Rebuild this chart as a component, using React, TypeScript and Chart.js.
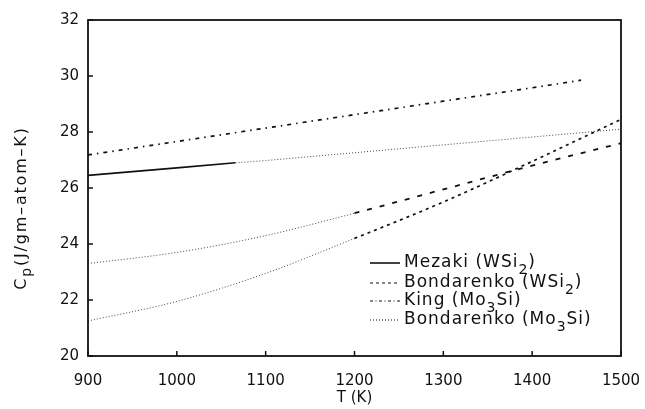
import React, { useEffect, useRef } from 'react';
import { Chart, registerables } from 'chart.js';

Chart.register(...registerables);

// Temperature grid (K) shared by most curves
const temps = [900, 1000, 1100, 1200, 1300, 1400, 1500];

// Mezaki (WSi2): measured up to ~1066 K, extrapolated beyond
const mezakiT = [900, 1000, 1066, 1100, 1200, 1300, 1400, 1500];
const mezakiCp = [26.45, 26.72, 26.9, 26.98, 27.26, 27.54, 27.82, 28.1];
const mezakiMeasuredMax = 1066;

// King (Mo3Si)
const kingT = [900, 1000, 1100, 1200, 1300, 1400, 1455];
const kingCp = [27.18, 27.66, 28.14, 28.62, 29.1, 29.58, 29.85];

// Bondarenko fits, valid from 1200 K, extrapolated below
const bondWSi2Cp = [23.3, 23.7, 24.3, 25.1, 25.95, 26.8, 27.6];
const bondMo3SiCp = [21.25, 21.95, 22.95, 24.2, 25.5, 26.95, 28.45];
const bondValidMin = 1200;

// Axis ticks
const xTicks = [900, 1000, 1100, 1200, 1300, 1400, 1500];
const yTicks = [20, 22, 24, 26, 28, 30, 32];

const FONT = "'DejaVu Sans', sans-serif";
const INK = '#111';

const DOTTED = [1, 2];
const DASHED = [5, 8];
const DASH_DOT = [4, 5, 1.5, 5];
const SHORT_DASH = [3, 4];

type LegendRow = { pre: string; sub: string; post: string; dash: number[]; width: number };
const legendRows: LegendRow[] = [
  { pre: 'Mezaki (WSi', sub: '2', post: ')', dash: [], width: 1.6 },
  { pre: 'Bondarenko (WSi', sub: '2', post: ')', dash: [3, 3], width: 1.2 },
  { pre: 'King (Mo', sub: '3', post: 'Si)', dash: [3, 2.5, 1, 2.5], width: 1.2 },
  { pre: 'Bondarenko (Mo', sub: '3', post: 'Si)', dash: [1, 2], width: 1.1 },
];

const pts = (xs: number[], ys: number[]) => xs.map((x, i) => ({ x, y: ys[i] }));

function drawSubText(
  ctx: CanvasRenderingContext2D,
  x: number,
  y: number,
  pre: string,
  sub: string,
  post: string,
  size: number,
  subSize: number,
  subDrop: number,
  spacing: number
) {
  ctx.textBaseline = 'middle';
  ctx.textAlign = 'left';
  (ctx as any).letterSpacing = spacing + 'px';
  ctx.font = `${size}px ${FONT}`;
  ctx.fillText(pre, x, y);
  let cx = x + ctx.measureText(pre).width;
  ctx.font = `${subSize}px ${FONT}`;
  ctx.fillText(sub, cx, y + subDrop);
  cx += ctx.measureText(sub).width;
  ctx.font = `${size}px ${FONT}`;
  ctx.fillText(post, cx, y);
  cx += ctx.measureText(post).width;
  (ctx as any).letterSpacing = '0px';
  return cx - x;
}

function measureSubText(
  ctx: CanvasRenderingContext2D,
  pre: string,
  sub: string,
  post: string,
  size: number,
  subSize: number,
  spacing: number
) {
  (ctx as any).letterSpacing = spacing + 'px';
  ctx.font = `${size}px ${FONT}`;
  let w = ctx.measureText(pre).width + ctx.measureText(post).width;
  ctx.font = `${subSize}px ${FONT}`;
  w += ctx.measureText(sub).width;
  (ctx as any).letterSpacing = '0px';
  return w;
}

const framePlugin = {
  id: 'frameAndLabels',
  afterDraw(chart: any) {
    const { ctx, chartArea } = chart;
    const xs = chart.scales.x;
    const ys = chart.scales.y;
    const { left, right, top, bottom } = chartArea;
    ctx.save();
    ctx.strokeStyle = INK;
    ctx.fillStyle = INK;

    // Plot frame
    ctx.lineWidth = 1.8;
    ctx.setLineDash([]);
    ctx.strokeRect(left, top, right - left, bottom - top);

    // Inward tick marks
    ctx.lineWidth = 1.5;
    ctx.beginPath();
    for (const v of xTicks) {
      const px = xs.getPixelForValue(v);
      ctx.moveTo(px, bottom);
      ctx.lineTo(px, bottom - 5);
    }
    for (const v of yTicks) {
      const py = ys.getPixelForValue(v);
      ctx.moveTo(left, py);
      ctx.lineTo(left + 5, py);
    }
    ctx.stroke();

    // Axis titles
    ctx.font = `15px ${FONT}`;
    ctx.textAlign = 'center';
    ctx.textBaseline = 'middle';
    ctx.fillText('T (K)', xs.getPixelForValue(1200), 398);

    ctx.save();
    ctx.translate(22, 208);
    ctx.rotate(-Math.PI / 2);
    const w = measureSubText(ctx, 'C', 'p', '(J/gm–atom–K)', 16, 14, 1.8);
    drawSubText(ctx, -w / 2, 0, 'C', 'p', '(J/gm–atom–K)', 16, 14, 5, 1.8);
    ctx.restore();

    // Legend
    const lx0 = 370;
    const lx1 = 400;
    const rowsY = [263, 283, 301, 320];
    legendRows.forEach((r, i) => {
      const y = rowsY[i];
      ctx.beginPath();
      ctx.lineWidth = r.width;
      ctx.setLineDash(r.dash);
      ctx.moveTo(lx0, y);
      ctx.lineTo(lx1, y);
      ctx.stroke();
      ctx.setLineDash([]);
      drawSubText(ctx, lx1 + 4, y, r.pre, r.sub, r.post, 17, 14, 7, 1);
    });

    ctx.restore();
  },
};

export default function App() {
  const canvasRef = useRef<HTMLCanvasElement | null>(null);

  useEffect(() => {
    const canvas = canvasRef.current;
    if (!canvas) return;

    const chart = new Chart(canvas, {
      type: 'line',
      data: {
        datasets: [
          {
            label: 'Mezaki (WSi2)',
            data: pts(mezakiT, mezakiCp),
            borderColor: INK,
            borderWidth: 1.6,
            pointRadius: 0,
            segment: {
              borderDash: (c: any) => (c.p0.parsed.x >= mezakiMeasuredMax ? DOTTED : []),
              borderWidth: (c: any) => (c.p0.parsed.x >= mezakiMeasuredMax ? 1 : 1.6),
              borderColor: (c: any) => (c.p0.parsed.x >= mezakiMeasuredMax ? '#444' : INK),
            },
          },
          {
            label: 'Bondarenko (WSi2)',
            data: pts(temps, bondWSi2Cp),
            borderColor: INK,
            borderWidth: 1.6,
            pointRadius: 0,
            cubicInterpolationMode: 'monotone',
            segment: {
              borderDash: (c: any) => (c.p0.parsed.x >= bondValidMin ? DASHED : DOTTED),
              borderWidth: (c: any) => (c.p0.parsed.x >= bondValidMin ? 1.8 : 1),
              borderColor: (c: any) => (c.p0.parsed.x >= bondValidMin ? INK : '#444'),
            },
          },
          {
            label: 'King (Mo3Si)',
            data: pts(kingT, kingCp),
            borderColor: INK,
            borderWidth: 1.7,
            borderDash: DASH_DOT,
            pointRadius: 0,
          },
          {
            label: 'Bondarenko (Mo3Si)',
            data: pts(temps, bondMo3SiCp),
            borderColor: INK,
            borderWidth: 1.6,
            pointRadius: 0,
            cubicInterpolationMode: 'monotone',
            segment: {
              borderDash: (c: any) => (c.p0.parsed.x >= bondValidMin ? SHORT_DASH : DOTTED),
              borderWidth: (c: any) => (c.p0.parsed.x >= bondValidMin ? 1.7 : 1),
              borderColor: (c: any) => (c.p0.parsed.x >= bondValidMin ? INK : '#444'),
            },
          },
        ],
      },
      options: {
        animation: false,
        responsive: false,
        devicePixelRatio: 1,
        layout: { padding: { top: 20, right: 24, left: 0, bottom: 0 } },
        plugins: {
          legend: { display: false },
          tooltip: { enabled: false },
        },
        scales: {
          x: {
            type: 'linear',
            min: 900,
            max: 1500,
            afterBuildTicks: (s: any) => {
              s.ticks = xTicks.map((v) => ({ value: v }));
            },
            afterFit: (s: any) => {
              s.height = 53;
              s.paddingLeft = 0;
              s.paddingRight = 0;
            },
            grid: { display: false, drawTicks: false },
            border: { display: false },
            ticks: {
              color: INK,
              font: { family: FONT, size: 15 },
              padding: 16,
              maxRotation: 0,
              callback: (v: any) => String(v),
            },
          },
          y: {
            type: 'linear',
            min: 20,
            max: 32,
            afterBuildTicks: (s: any) => {
              s.ticks = yTicks.map((v) => ({ value: v }));
            },
            afterFit: (s: any) => {
              s.width = 88;
              s.paddingTop = 0;
              s.paddingBottom = 0;
            },
            grid: { display: false, drawTicks: false },
            border: { display: false },
            ticks: {
              color: INK,
              font: { family: FONT, size: 15 },
              padding: 9,
              callback: (v: any) => String(v),
            },
          },
        },
      },
      plugins: [framePlugin],
    } as any);

    return () => chart.destroy();
  }, []);

  return (
    <div style={{ position: 'fixed', left: 0, top: 0, width: 645, height: 409, background: '#fff' }}>
      <canvas ref={canvasRef} width={645} height={409} />
    </div>
  );
}
